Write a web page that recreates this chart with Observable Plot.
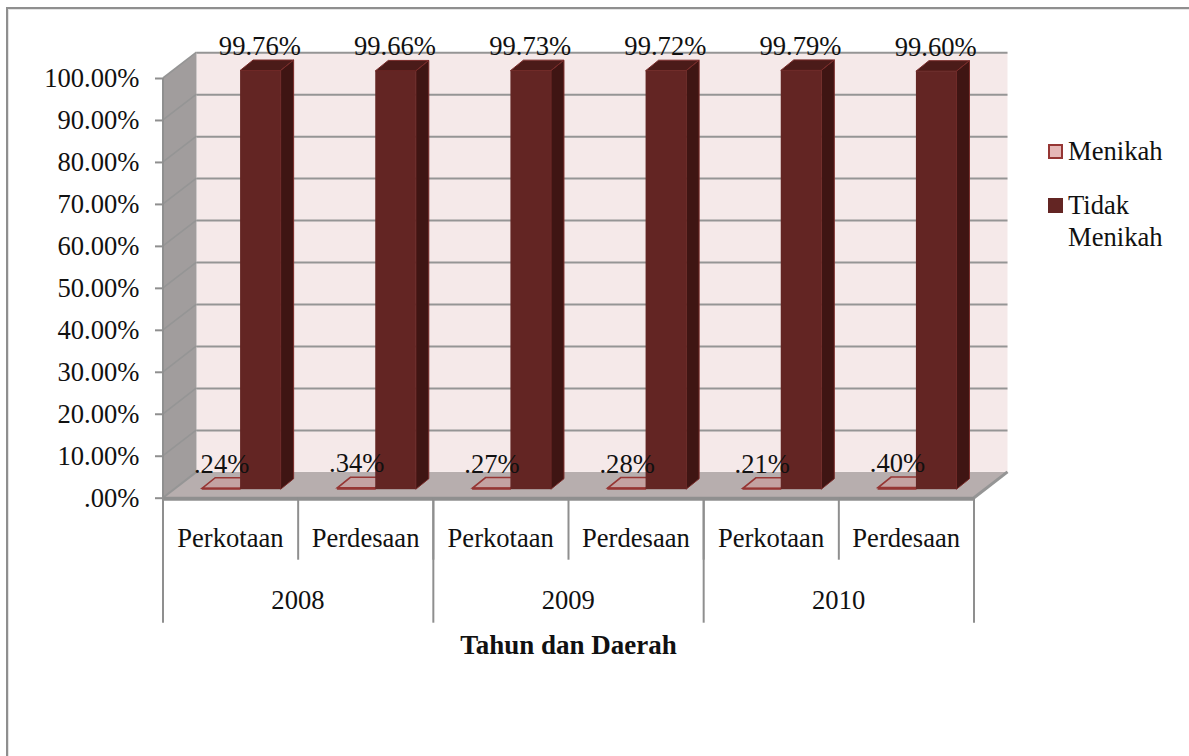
<!DOCTYPE html>
<html lang="id">
<head>
<meta charset="utf-8">
<title>Tahun dan Daerah</title>
<script src="https://cdn.jsdelivr.net/npm/d3@7"></script>
<script src="https://cdn.jsdelivr.net/npm/@observablehq/plot@0.6"></script>
<style>
  html, body { margin: 0; background: #fff; }
  #page { position: relative; width: 1189px; height: 756px; overflow: hidden; font-family: "Liberation Serif", serif; color: #111; }
  #edge { position: absolute; left: 6px; top: 7px; right: 0; bottom: 0; border-left: 2px solid #8f8f8f; border-top: 2px solid #8f8f8f; box-shadow: inset 1px 1px 0 #e4e4e4; }
  #chart { position: absolute; left: 0; top: 0; }
  #legend { position: absolute; left: 1048px; top: 135px; font-size: 26.6px; line-height: 32px; }
  .entry { position: relative; padding-left: 20px; }
  .entry + .entry { margin-top: 22px; }
  .swatch { position: absolute; left: 0; top: 9px; width: 15px; height: 15px; box-sizing: border-box; }
</style>
</head>
<body>
<div id="page">
  <div id="edge"></div>
  <div id="chart"></div>
  <div id="legend"></div>
</div>
<script>
// Marital status shares by year and area type
const daerah = ["Perkotaan", "Perdesaan", "Perkotaan", "Perdesaan", "Perkotaan", "Perdesaan"];
const tahun = ["2008", "2009", "2010"];
const menikah = [0.24, 0.34, 0.27, 0.28, 0.21, 0.40];
const tidakMenikah = [99.76, 99.66, 99.73, 99.72, 99.79, 99.60];
const yTicks = [0, 10, 20, 30, 40, 50, 60, 70, 80, 90, 100];
const seriesNames = ["Menikah", "Tidak Menikah"];

// Colours of the walls, floor and bars
const warna = {
  wall: "#f5e9e9", grid: "#959595", side: "#a19d9d", floor: "#b7aeae", rim: "#8f8f8f",
  barFront: "#632523", barTop: "#4b1b19", barSide: "#3f1513", barEdge: "#7b2c2a",
  thinFill: "#c4a2a2", thinStroke: "#963634", swatchFill: "#e6b8b7"
};

// Depth of the box and of the bars inside it, in pixels
const box = {dx: 33.5, dy: -25.8};
const seat = {dx: 9.5, dy: -8.5};
const prism = {dx: 13, dy: -10.5};
const halfWidth = 0.28;

const rows = daerah.map((d, i) => ({
  i, daerah: d, center: i + 0.5,
  menikah: menikah[i], tidak: tidakMenikah[i],
  m1: i + 0.5 - halfWidth, m2: i + 0.5,
  t1: i + 0.5, t2: i + 0.5 + 0.3
}));

const percent = v => {
  const s = v.toFixed(2) + "%";
  return s.startsWith("0.") ? s.slice(1) : s;
};

const polygon = pts => "M" + pts.map(p => p.join(",")).join("L") + "Z";

// Side wall, its slanted gridlines, and the floor of the box
const shell = (index, {x, y}) => {
  const g = d3.create("svg:g");
  const x0 = x(0), x6 = x(6), y0 = y(0), yTop = y(100);
  g.append("path").attr("fill", warna.side)
    .attr("d", polygon([[x0, y0], [x0, yTop], [x0 + box.dx, yTop + box.dy], [x0 + box.dx, y0 + box.dy]]));
  g.append("path").attr("fill", warna.floor)
    .attr("d", polygon([[x0, y0], [x6, y0], [x6 + box.dx, y0 + box.dy], [x0 + box.dx, y0 + box.dy]]));
  for (const t of yTicks) {
    g.append("line").attr("stroke", warna.grid).attr("stroke-width", t === 0 ? 2 : 1.6)
      .attr("x1", x0).attr("y1", y(t)).attr("x2", x0 + box.dx).attr("y2", y(t) + box.dy);
  }
  g.append("line").attr("stroke", warna.grid).attr("stroke-width", 3)
    .attr("x1", x6).attr("y1", y0).attr("x2", x6 + box.dx).attr("y2", y0 + box.dy);
  return g.node();
};

// Top and right faces of one series of bars
const faces = (field, a, b, top, side, edge, edgeWidth) => (index, {x, y}) => {
  const g = d3.create("svg:g");
  for (const r of rows) {
    const xl = x(r[a]) + seat.dx, xr = x(r[b]) + seat.dx;
    const yb = y(0) + seat.dy, yt = y(r[field]) + seat.dy;
    g.append("path").attr("fill", top).attr("stroke", edge).attr("stroke-width", edgeWidth)
      .attr("d", polygon([[xl, yt], [xr, yt], [xr + prism.dx, yt + prism.dy], [xl + prism.dx, yt + prism.dy]]));
    if (side) {
      g.append("path").attr("fill", side).attr("stroke", edge).attr("stroke-width", edgeWidth)
        .attr("d", polygon([[xr, yt], [xr + prism.dx, yt + prism.dy], [xr + prism.dx, yb + prism.dy], [xr, yb]]));
    }
  }
  return g.node();
};

const slotEdges = d3.range(0, 7);
const yearEdges = [0, 2, 4, 6];
const yearRows = tahun.map((t, i) => ({tahun: t, center: i * 2 + 1}));

const chart = Plot.plot({
  width: 1040,
  height: 680,
  marginLeft: 163,
  marginRight: 66,
  marginTop: 78,
  marginBottom: 182.3,
  style: {fontFamily: "Liberation Serif, serif", background: "transparent", overflow: "visible"},
  x: {type: "linear", domain: [0, 6], axis: null},
  y: {type: "linear", domain: [0, 100], axis: null},
  marks: [
    // Back wall and its gridlines
    Plot.rect([0], {x1: 0, x2: 6, y1: 0, y2: 100, dx: box.dx, dy: box.dy, fill: warna.wall}),
    Plot.ruleY(yTicks.filter(t => t > 0), {y: d => d, dx: box.dx, dy: box.dy, stroke: warna.grid, strokeWidth: 2}),
    shell,

    // Menikah: nearly flat bars
    faces("menikah", "m1", "m2", warna.thinFill, null, warna.thinStroke, 1.6),
    Plot.rect(rows, {x1: "m1", x2: "m2", y1: 0, y2: "menikah", dx: seat.dx, dy: seat.dy, fill: warna.thinStroke, stroke: warna.thinStroke, strokeWidth: 1}),

    // Tidak Menikah: full-height bars
    faces("tidak", "t1", "t2", warna.barTop, warna.barSide, warna.barEdge, 1),
    Plot.rect(rows, {x1: "t1", x2: "t2", y1: 0, y2: "tidak", dx: seat.dx, dy: seat.dy, fill: warna.barFront}),

    // Front rim of the floor, value axis and its line
    Plot.ruleY([0], {stroke: warna.rim, strokeWidth: 4, dy: 0.5}),
    Plot.ruleX([0], {y1: 0, y2: 100, stroke: warna.rim, strokeWidth: 2, dx: -0.5}),
    Plot.axisY({
      ticks: yTicks,
      tickFormat: percent,
      tickSize: 8,
      tickPadding: 16,
      stroke: warna.rim,
      strokeWidth: 2,
      fontSize: 26.6,
      fill: "#111",
      label: null,
      marginLeft: 163
    }),

    // Two-tier category axis
    Plot.ruleX(slotEdges, {x: d => d, y1: 0, y2: 0, insetBottom: -62, stroke: warna.rim, strokeWidth: 2, dx: -0.5}),
    Plot.ruleX(yearEdges, {x: d => d, y1: 0, y2: 0, insetBottom: -125, stroke: warna.rim, strokeWidth: 2, dx: -0.5}),
    Plot.text(rows, {x: "center", y: () => 0, text: "daerah", dx: -0.7, dy: 40.5, fontSize: 26.6, fill: "#111"}),
    Plot.text(yearRows, {x: "center", y: () => 0, text: "tahun", dx: -0.7, dy: 102.5, fontSize: 26.6, fill: "#111"}),
    Plot.text(["Tahun dan Daerah"], {x: () => 3, y: () => 0, text: d => d, dx: -0.5, dy: 147, fontSize: 27, fontWeight: "bold", fill: "#111"}),

    // Value labels above each bar
    Plot.text(rows, {x: d => (d.m1 + d.m2) / 2, y: "menikah", text: d => percent(d.menikah), dx: seat.dx, dy: -33, fontSize: 26.6, fill: "#111"}),
    Plot.text(rows, {x: d => (d.t1 + d.t2) / 2, y: "tidak", text: d => percent(d.tidak), dx: seat.dx - 1, dy: -33, fontSize: 26.6, fill: "#111"})
  ]
});
document.getElementById("chart").append(chart);

// Legend to the right of the chart
const legendStyles = [
  {fill: warna.swatchFill, stroke: warna.thinStroke},
  {fill: warna.barFront, stroke: warna.barFront}
];
const legend = d3.select("#legend");
seriesNames.forEach((name, i) => {
  const entry = legend.append("div").attr("class", "entry");
  entry.append("span").attr("class", "swatch")
    .style("background", legendStyles[i].fill)
    .style("border", `2px solid ${legendStyles[i].stroke}`);
  entry.append("span").text(name);
});
legend.select(".entry:last-child").style("width", "120px");
</script>
</body>
</html>
